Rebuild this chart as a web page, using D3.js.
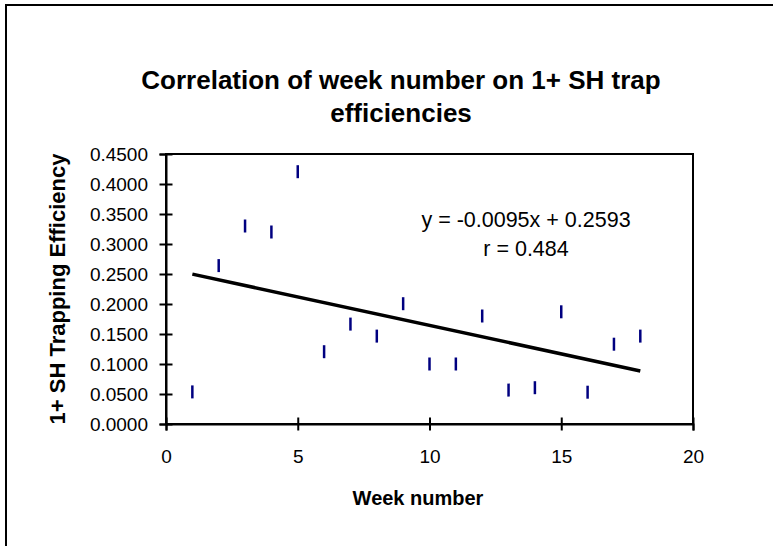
<!DOCTYPE html>
<html>
<head>
<meta charset="utf-8">
<script src="https://cdn.jsdelivr.net/npm/d3@7"></script>
<style>
  body { margin: 0; background: #fff; }
  svg { display: block; font-family: "Liberation Sans", Arial, sans-serif; }
</style>
</head>
<body>
<div id="scatter-chart"></div>
<script>
// values
const weeks = [1, 2, 3, 4, 5, 6, 7, 8, 9, 10, 11, 12, 13, 14, 15, 16, 17, 18];
const efficiency = [0.0535, 0.264, 0.330, 0.320, 0.4205, 0.1205, 0.1665, 0.1465, 0.2005,
  0.100, 0.100, 0.180, 0.0565, 0.0605, 0.187, 0.053, 0.133, 0.1465];
const xTicks = [0, 5, 10, 15, 20];
const yTicks = [0, 0.05, 0.1, 0.15, 0.2, 0.25, 0.3, 0.35, 0.4, 0.45];
const trendSlope = -0.0095;
const trendIntercept = 0.2593;
const titleLines = ["Correlation of week number on 1+ SH trap", "efficiencies"];
const xLabel = "Week number";
const yLabel = "1+ SH Trapping Efficiency";
const equationLines = ["y = -0.0095x + 0.2593", "r = 0.484"];

class ScatterChart {
  constructor() {
    this.width = 773;
    this.height = 546;
    this.plot = { left: 166, right: 693, top: 154, bottom: 424 };
    this.tick = 6.5;

    this.svg = d3.select("#scatter-chart").append("svg")
      .attr("width", this.width)
      .attr("height", this.height);

    // scales
    this.xScale = d3.scaleLinear().domain([0, 20]).range([this.plot.left, this.plot.right]);
    this.yScale = d3.scaleLinear().domain([0, 0.45]).range([this.plot.bottom, this.plot.top]);
  }

  drawChart() {
    // outer chart border (runs off right and bottom)
    this.svg.append("rect")
      .attr("x", 6).attr("y", 5)
      .attr("width", 800).attr("height", 600)
      .attr("fill", "none")
      .attr("stroke", "#000")
      .attr("stroke-width", 2);

    // title
    this.svg.append("g").selectAll("text")
      .data(titleLines)
      .join("text")
      .attr("x", 401)
      .attr("y", (d, i) => 89 + i * 33)
      .attr("text-anchor", "middle")
      .style("font-size", "26px")
      .style("font-weight", "bold")
      .text(d => d);

    // plot frame
    this.svg.append("rect")
      .attr("x", this.plot.left).attr("y", this.plot.top)
      .attr("width", this.plot.right - this.plot.left)
      .attr("height", this.plot.bottom - this.plot.top)
      .attr("fill", "none")
      .attr("stroke", "#000")
      .attr("stroke-width", 2);

    // x axis, ticks crossing the line
    let xAxis = this.svg.append("g")
      .attr("id", "x-axis-line")
      .attr("transform", `translate(0, ${this.plot.bottom})`)
      .call(d3.axisBottom(this.xScale).tickValues(xTicks).tickSize(this.tick).tickPadding(19.5));
    xAxis.select(".domain").attr("stroke-width", 2);
    xAxis.selectAll(".tick line").attr("y1", -this.tick).attr("stroke-width", 2);
    xAxis.selectAll(".tick text")
      .style("font-size", "19px")
      .attr("fill", "#000");

    // y axis
    let yAxis = this.svg.append("g")
      .attr("id", "y-axis-line")
      .attr("transform", `translate(${this.plot.left}, 0)`)
      .call(d3.axisLeft(this.yScale).tickValues(yTicks).tickSize(this.tick).tickPadding(11.5)
        .tickFormat(d3.format(".4f")));
    yAxis.select(".domain").attr("stroke-width", 2);
    yAxis.selectAll(".tick line").attr("x1", this.tick).attr("stroke-width", 2);
    yAxis.selectAll(".tick text")
      .style("font-size", "19px")
      .attr("fill", "#000");

    // axis titles
    this.svg.append("text")
      .attr("x", 418).attr("y", 505)
      .attr("text-anchor", "middle")
      .style("font-size", "20px")
      .style("font-weight", "bold")
      .text(xLabel);

    this.svg.append("text")
      .attr("text-anchor", "middle")
      .style("font-size", "22px")
      .style("font-weight", "bold")
      .attr("transform", `translate(65, ${(this.plot.top + this.plot.bottom) / 2}) rotate(-90)`)
      .text(yLabel);

    // trend line over the data range
    let trend = d3.extent(weeks).map(w => ({ week: w, val: trendSlope * w + trendIntercept }));
    this.svg.append("path")
      .datum(trend)
      .attr("fill", "none")
      .attr("stroke", "#000")
      .attr("stroke-width", 3.5)
      .attr("d", d3.line().x(d => this.xScale(d.week)).y(d => this.yScale(d.val)));

    // dash markers
    this.svg.append("g").selectAll("line")
      .data(weeks.map((w, i) => ({ week: w, val: efficiency[i] })))
      .join("line")
      .attr("x1", d => this.xScale(d.week))
      .attr("x2", d => this.xScale(d.week))
      .attr("y1", d => this.yScale(d.val) - 6.5)
      .attr("y2", d => this.yScale(d.val) + 6.5)
      .attr("stroke", "#000080")
      .attr("stroke-width", 2.5);

    // regression equation
    this.svg.append("g").selectAll("text")
      .data(equationLines)
      .join("text")
      .attr("x", 526)
      .attr("y", (d, i) => 227 + i * 29)
      .attr("text-anchor", "middle")
      .style("font-size", "21.5px")
      .text(d => d);
  }
}

const chart = new ScatterChart();
chart.drawChart();
</script>
</body>
</html>
